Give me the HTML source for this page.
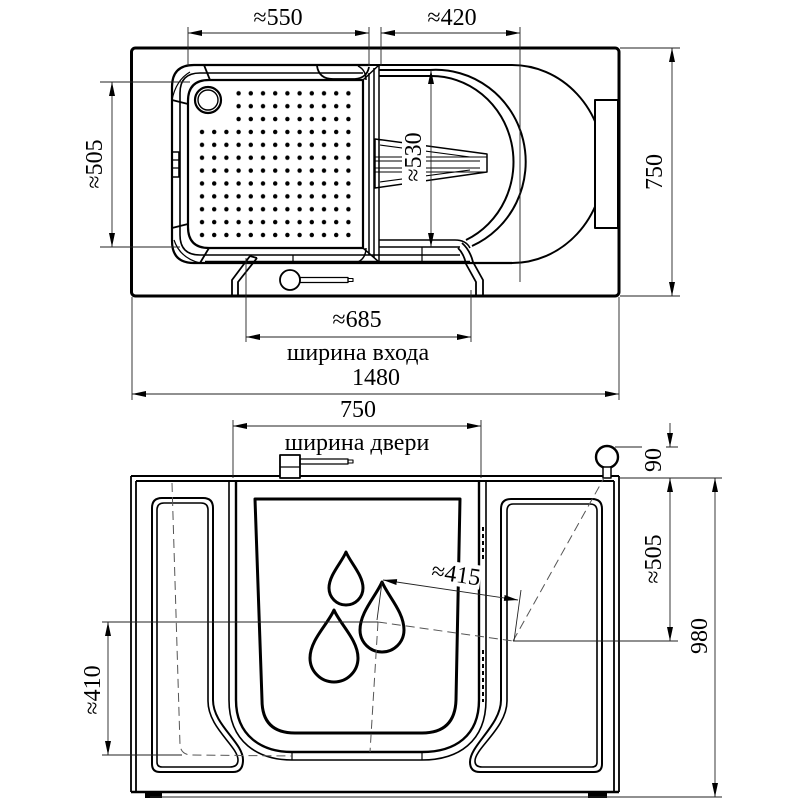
<!DOCTYPE html>
<html><head><meta charset="utf-8">
<style>
html,body{margin:0;padding:0;background:#fff;}
svg{display:block;}
text{font-family:"Liberation Serif","DejaVu Serif",serif;font-size:24px;fill:#000;}
</style></head><body>
<svg width="800" height="800" viewBox="0 0 800 800" xmlns="http://www.w3.org/2000/svg">
<defs>
<marker id="a" viewBox="0 0 14 6" refX="14" refY="3" markerWidth="14" markerHeight="6" markerUnits="userSpaceOnUse" orient="auto-start-reverse"><path d="M0,0 L14,3 L0,6 Z" fill="#000"/></marker>
<pattern id="dots" x="195.9" y="86.86" width="12.2" height="12.88" patternUnits="userSpaceOnUse"><circle cx="6.1" cy="6.44" r="2.2" fill="#000"/></pattern>
</defs>
<rect width="800" height="800" fill="#fff"/>

<!-- ================= TOP VIEW ================= -->
<g fill="none" stroke="#000" stroke-linejoin="round">
  <rect x="131.5" y="48" width="487.5" height="248" rx="4" stroke-width="3"/>
  <!-- big arc -->
  <path d="M 370,65 H 512 A 92 99 0 0 1 512,263" stroke-width="2"/>
  <!-- tub outer contour -->
  <path d="M 370,65 H 194 Q 172,65 172,87 V 241 Q 172,263 194,263 H 512" stroke-width="2.2"/>
  <!-- band inner line -->
  <path d="M 363,73 H 200 Q 180,73 180,93 V 235 Q 180,255 200,255 H 460" stroke-width="1.6"/>
  <!-- seat panel -->
  <path d="M 363,80 H 209 Q 188,80 188,101 V 227 Q 188,248 209,248 H 363 Z" stroke-width="2.2"/>
  <!-- corner bumpers -->
  <path d="M 204,65 L 210,80 M 172,100 L 188,104 M 172,228 L 188,224 M 200,263 L 209,248" stroke-width="1.8"/>
  <path d="M 172,100 Q 176,80 190,72 M 200,263 Q 180,258 174,240" stroke-width="1.2"/>
  <!-- seat right lines -->
  <path d="M 369,73 V 255 M 374,68 V 258 M 379,65 V 262" stroke-width="1.5"/>
  <path d="M 363,80 L 379,65 M 363,248 L 379,262 M 358,66 Q 366,70 366,80 M 358,262 Q 366,258 366,248" stroke-width="1.5"/>
  <!-- top notch -->
  <path d="M 317,66 Q 319,79 333,79 H 355 Q 367,78 369,67" stroke-width="1.8"/>
  <!-- vents -->
  <rect x="172" y="152" width="7" height="25" stroke-width="1.6"/>
  <path d="M 172,160 H 179 M 172,168 H 179" stroke-width="1.2"/>
  <!-- drain -->
  <circle cx="208" cy="100" r="13" stroke-width="2.2"/>
  <circle cx="208" cy="100" r="10" stroke-width="1.4"/>
  <!-- D shape -->
  <path d="M 379,70 H 430 A 90 92 0 0 1 472,246" stroke-width="2"/>
  <path d="M 379,76 H 430 A 82 86 0 0 1 466,240" stroke-width="2"/>
  <path d="M 379,240 H 455 Q 466,240 470,248 M 379,247 H 460" stroke-width="1.5"/>
  <!-- wedges -->
  <path d="M 375,139 L 487,154 V 172 L 375,188 Z" stroke-width="1.5"/>
  <path d="M 375,157 H 487 M 375,161 H 480 M 375,168 H 480 M 375,172 H 487 M 380,145 L 470,157 M 380,182 L 470,170" stroke-width="1.1"/>
  <!-- sill lines -->
  <path d="M 205,262 H 470" stroke-width="2.4"/>
  <path d="M 293,255 V 262 M 422,247 V 262" stroke-width="1.2"/>
  <!-- bevel posts -->
  <path d="M 250,256 L 232,280 V 296 M 257,258 L 238,282 V 296 M 250,256 L 257,258" stroke-width="1.8"/>
  <path d="M 462,243 Q 470,250 473,262 L 483,280 V 296 M 458,248 Q 464,254 466,264 L 476,282 V 296" stroke-width="1.8"/>
  <!-- handle -->
  <circle cx="290" cy="280" r="10" stroke-width="1.8" fill="#fff"/>
  <rect x="300" y="277.5" width="48" height="5" stroke-width="1.3"/>
  <rect x="348" y="278.5" width="5" height="3" stroke-width="1.1"/>
  <!-- headrest -->
  <rect x="595" y="100" width="23" height="128" stroke-width="2" fill="#fff"/>
</g>
<rect x="195.9" y="125.5" width="158.6" height="115.9" fill="url(#dots)"/>
<rect x="232.5" y="86.86" width="122" height="38.64" fill="url(#dots)"/>

<!-- top dimensions -->
<g stroke="#222" stroke-width="0.9" fill="none">
  <path d="M 188,27 V 66 M 369,27 V 66 M 381,27 V 66 M 520,27 V 282"/>
  <line x1="188" y1="33" x2="369" y2="33" marker-start="url(#a)" marker-end="url(#a)"/>
  <line x1="381" y1="33" x2="520" y2="33" marker-start="url(#a)" marker-end="url(#a)"/>
  <path d="M 100,82 H 190 M 100,247 H 180"/>
  <line x1="112" y1="82" x2="112" y2="247" marker-start="url(#a)" marker-end="url(#a)"/>
  <path d="M 620,48 H 680 M 620,296 H 680"/>
  <line x1="672" y1="48" x2="672" y2="296" marker-start="url(#a)" marker-end="url(#a)"/>
  <line x1="431" y1="70" x2="431" y2="247" marker-start="url(#a)" marker-end="url(#a)"/>
  <path d="M 246,258 V 342 M 471,290 V 342"/>
  <line x1="246" y1="337" x2="471" y2="337" marker-start="url(#a)" marker-end="url(#a)"/>
  <path d="M 132,297 V 400 M 619,297 V 400"/>
  <line x1="132" y1="394" x2="619" y2="394" marker-start="url(#a)" marker-end="url(#a)"/>
</g>
<g fill="#fff">
  <rect x="83" y="137" width="24" height="54"/>
  <rect x="643" y="151" width="24" height="42"/>
  <rect x="402" y="131" width="24" height="54"/>
</g>
<text x="278" y="25" text-anchor="middle">≈550</text>
<text x="452" y="25" text-anchor="middle">≈420</text>
<text transform="translate(95,164) rotate(-90)" text-anchor="middle" dominant-baseline="central">≈505</text>
<text transform="translate(655,172) rotate(-90)" text-anchor="middle" dominant-baseline="central">750</text>
<text transform="translate(414,157) rotate(-90)" text-anchor="middle" dominant-baseline="central">≈530</text>
<text x="357" y="327" text-anchor="middle">≈685</text>
<text x="358" y="360" text-anchor="middle">ширина входа</text>
<text x="376" y="385" text-anchor="middle">1480</text>

<!-- ================= FRONT VIEW ================= -->
<g fill="none" stroke="#000" stroke-linejoin="round">
  <path d="M 131,476 H 619 M 136,481 H 614" stroke-width="2"/>
  <path d="M 131,476 V 792 M 136,481 V 792 M 619,476 V 792 M 614,481 V 792" stroke-width="1.8"/>
  <path d="M 131,792 H 619" stroke-width="2.4"/>
  <!-- left panel -->
  <path d="M 152,508 Q 152,498 162,498 H 203 Q 213,498 213,508 V 700 C 213,725 243,742 243,760 Q 243,772 233,772 H 160 Q 152,772 152,764 Z" stroke-width="2"/>
  <path d="M 157,510 Q 157,503 164,503 H 201 Q 208,503 208,510 V 701 C 208,728 238,746 238,760 Q 238,767 230,767 H 162 Q 157,767 157,762 Z" stroke-width="1.6"/>
  <!-- right panel -->
  <path d="M 511,499 H 592 Q 602,499 602,509 V 764 Q 602,772 594,772 H 480 Q 470,772 470,762 C 470,745 501,725 501,700 V 509 Q 501,499 511,499 Z" stroke-width="2"/>
  <path d="M 513,504 H 590 Q 597,504 597,511 V 762 Q 597,767 592,767 H 482 Q 475,767 475,761 C 475,748 507,728 507,701 V 511 Q 507,504 513,504 Z" stroke-width="1.6"/>
  <!-- door frame -->
  <path d="M 229,481 V 700 C 229,742 258,760 292,760 H 422 C 458,760 486,742 486,700 V 481" stroke-width="1.6"/>
  <path d="M 236,481 V 700 C 236,736 262,752 292,752 H 422 C 455,752 479,736 479,700 V 481" stroke-width="2.4"/>
  <path d="M 292,752 V 760 M 422,752 V 760" stroke-width="1.2"/>
  <path d="M 483,527 V 562 M 483,650 V 702" stroke-width="2" stroke-dasharray="4 3"/>
  <!-- inner door panel -->
  <path d="M 255,499 H 460 L 456,700 Q 455,733 422,733 H 295 Q 262,733 262,700 Z" stroke-width="3"/>
  <!-- drops -->
  <path d="M 346,552 C 350,562 363,575 363,588 A 17 17 0 0 1 329,588 C 329,575 342,562 346,552 Z" stroke-width="3"/>
  <path d="M 334,610 C 340,624 358,640 358,658 A 24 24 0 0 1 310,658 C 310,640 328,624 334,610 Z" stroke-width="3"/>
  <path d="M 382,582 C 388,596 404,612 404,630 A 22 22 0 0 1 360,630 C 360,612 376,596 382,582 Z" stroke-width="3"/>
  <!-- handle top -->
  <rect x="280" y="455" width="20" height="23" stroke-width="1.8" fill="#fff"/>
  <path d="M 280,467 H 300" stroke-width="1.3"/>
  <rect x="300" y="459" width="48" height="5" stroke-width="1.3"/>
  <rect x="348" y="460" width="5" height="3" stroke-width="1.1"/>
  <!-- ball -->
  <circle cx="607" cy="457" r="11" stroke-width="2.4" fill="#fff"/>
  <rect x="603" y="467" width="8" height="11" stroke-width="1.5" fill="#fff"/>
</g>
<rect x="145" y="793" width="17" height="5" fill="#000"/>
<rect x="588" y="793" width="19" height="5" fill="#000"/>

<!-- hidden dashed lines -->
<g fill="none" stroke="#555" stroke-width="1" stroke-dasharray="9 5">
  <path d="M 172,483 L 180,745 Q 181,755 192,755 L 292,756"/>
  <path d="M 378,622 L 370,752"/>
  <path d="M 378,622 L 513,641"/>
  <path d="M 513,641 L 604,478"/>
</g>

<!-- front dimensions -->
<g stroke="#222" stroke-width="0.9" fill="none">
  <path d="M 233,420 V 478 M 481,420 V 478"/>
  <line x1="233" y1="426" x2="481" y2="426" marker-start="url(#a)" marker-end="url(#a)"/>
  <path d="M 615,447 H 678 M 619,478 H 722 M 513,641 H 678 M 150,797 H 722"/>
  <line x1="670" y1="423" x2="670" y2="447" marker-end="url(#a)"/>
  <line x1="670" y1="478" x2="670" y2="641" marker-start="url(#a)" marker-end="url(#a)"/>
  <line x1="715" y1="478" x2="715" y2="797" marker-start="url(#a)" marker-end="url(#a)"/>
  <path d="M 102,622 H 378 M 102,755 H 182"/>
  <line x1="108" y1="622" x2="108" y2="755" marker-start="url(#a)" marker-end="url(#a)"/>
  <path d="M 382,582 L 377,620 M 521,590 L 514,641"/>
  <line x1="383" y1="580" x2="518" y2="600" marker-start="url(#a)" marker-end="url(#a)"/>
</g>
<g fill="#fff">
  <rect x="642" y="446" width="24" height="28"/>
  <rect x="642" y="532" width="24" height="54"/>
  <rect x="688" y="614" width="24" height="44"/>
  <rect x="81" y="663" width="24" height="54"/>
  <rect x="431" y="562" width="50" height="24" transform="rotate(8.5 456 574)"/>
</g>
<text x="358" y="417" text-anchor="middle">750</text>
<text x="357" y="450" text-anchor="middle">ширина двери</text>
<text transform="translate(654,460) rotate(-90)" text-anchor="middle" dominant-baseline="central">90</text>
<text transform="translate(654,559) rotate(-90)" text-anchor="middle" dominant-baseline="central">≈505</text>
<text transform="translate(700,636) rotate(-90)" text-anchor="middle" dominant-baseline="central">980</text>
<text transform="translate(93,690) rotate(-90)" text-anchor="middle" dominant-baseline="central">≈410</text>
<text transform="translate(456,575) rotate(8.5)" text-anchor="middle" dominant-baseline="central">≈415</text>
</svg>
</body></html>
